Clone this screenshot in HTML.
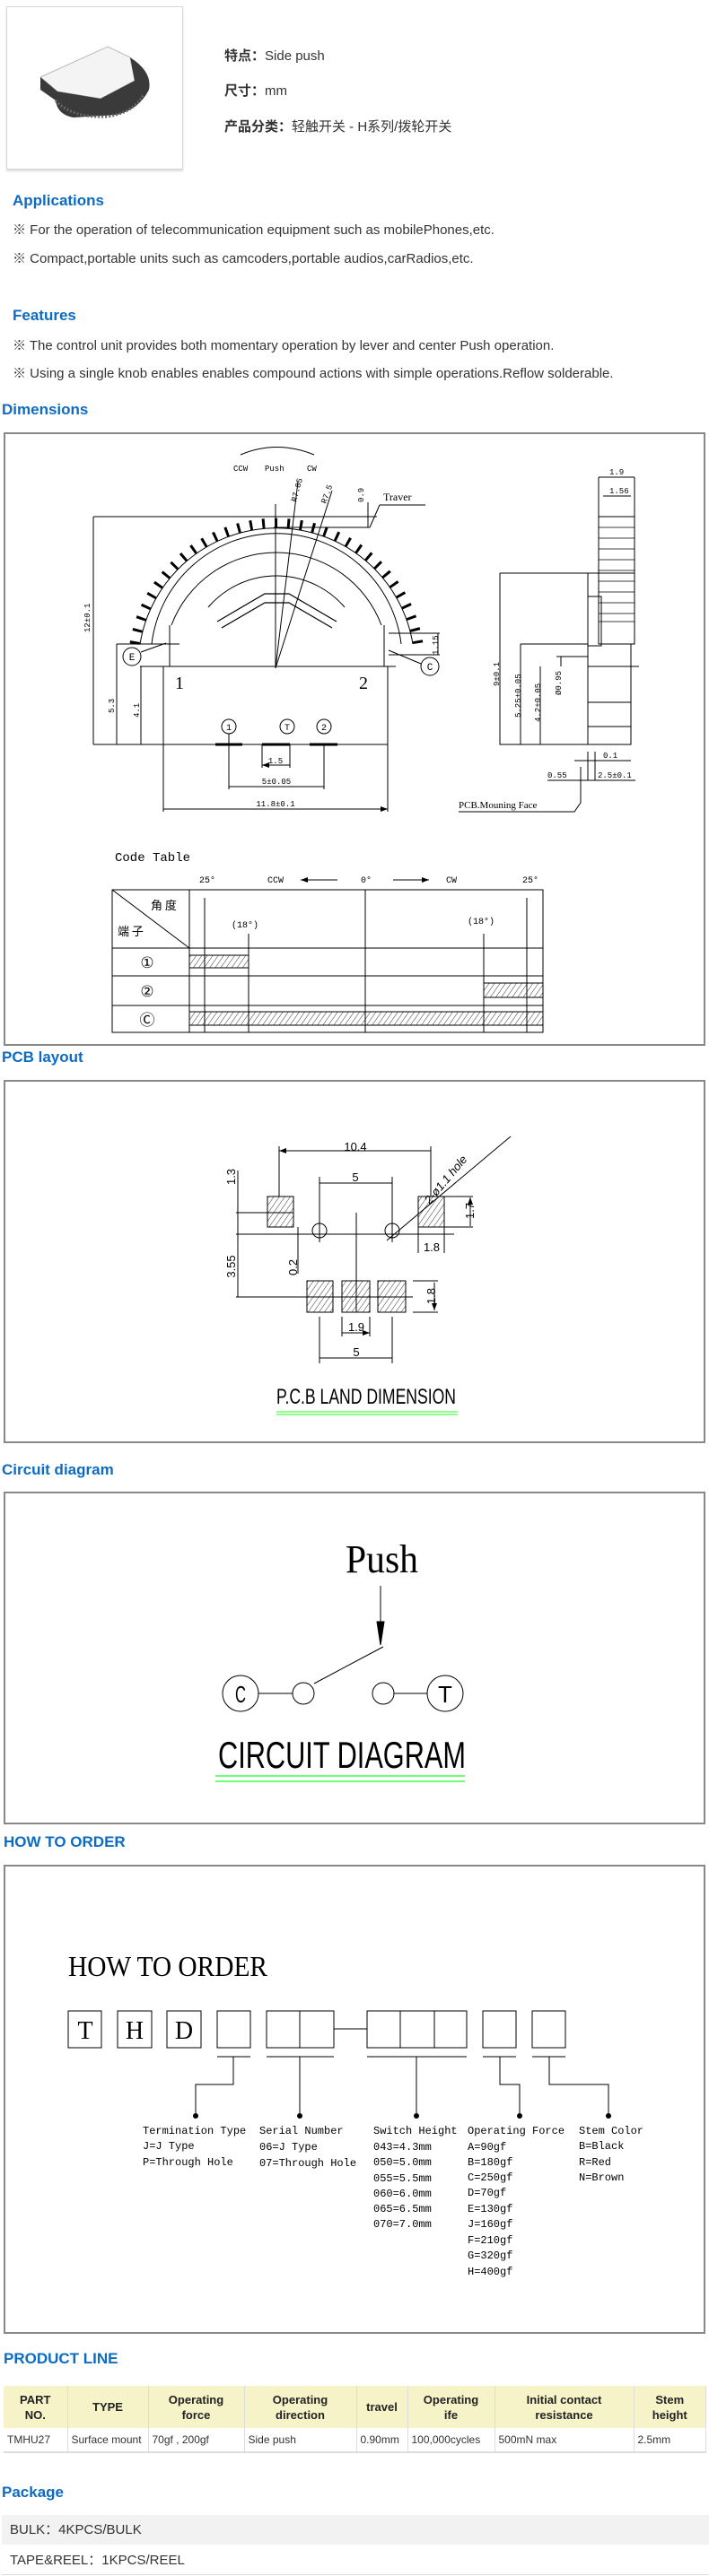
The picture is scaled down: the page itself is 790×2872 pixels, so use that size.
<!DOCTYPE html>
<html><head><meta charset="utf-8"><style>
*{margin:0;padding:0;box-sizing:border-box}
body{width:790px;height:2872px;position:relative;background:#fff;font-family:"Liberation Sans","Noto Sans CJK SC",sans-serif;color:#222;overflow:hidden}
.a{position:absolute;white-space:nowrap}
.h{font-weight:bold;color:#0d6cc2;font-size:17px;line-height:20px}
.t{font-size:15px;line-height:16px;color:#333}
.box{position:absolute;border:2px solid #888;left:4px;width:782px}
table{border-collapse:collapse;position:absolute;left:4px;top:2660px;width:783px;font-size:12px}
th{background:#f6f3c9;font-weight:bold;font-size:13px;height:47px;line-height:17px;border-right:1px solid #ddd;text-align:center}
td{height:27px;border-right:1px solid #ddd;border-bottom:2px solid #ddd;padding-left:4px;color:#333}
</style></head><body>
<div class="a" style="left:7px;top:7px;width:197px;height:182px;border:1px solid #d6d6d6;box-shadow:0 2px 2px #ddd"></div>
<svg class="a" style="left:0;top:0" width="210" height="200">
<path d="M45,86 L120,52 L145,64 L150,90 L112,110 L64,102 Z" fill="#f4f4f4" stroke="#bbb"/>
<path d="M145,64 Q170,80 166,100 Q155,122 130,128 L82,131 Q64,128 62,112 L45,100 L45,86 L64,102 L112,110 L150,90 Z" fill="#3a3a3a"/>
<path d="M62,112 Q80,132 120,130 Q150,125 160,105" fill="none" stroke="#666" stroke-width="3" stroke-dasharray="2 2"/>
</svg>
<div class="a t" style="left:250px;top:55px"><b>特点：</b>Side push</div>
<div class="a t" style="left:250px;top:94px"><b>尺寸：</b>mm</div>
<div class="a t" style="left:250px;top:134px"><b>产品分类：</b>轻触开关 - H系列/拨轮开关</div>
<div class="a h" style="left:14px;top:214px">Applications</div>
<div class="a t" style="left:14px;top:249px">※ For the operation of telecommunication equipment such as mobilePhones,etc.</div>
<div class="a t" style="left:14px;top:281px">※ Compact,portable units such as camcoders,portable audios,carRadios,etc.</div>
<div class="a h" style="left:14px;top:342px">Features</div>
<div class="a t" style="left:14px;top:378px">※ The control unit provides both momentary operation by lever and center Push operation.</div>
<div class="a t" style="left:14px;top:409px">※ Using a single knob enables enables compound actions with simple operations.Reflow solderable.</div>
<div class="a h" style="left:2px;top:447px">Dimensions</div>
<div class="box" style="top:482px;height:684px"></div>
<div class="a h" style="left:2px;top:1169px">PCB layout</div>
<div class="box" style="top:1204px;height:405px"></div>
<div class="a h" style="left:2px;top:1629px">Circuit diagram</div>
<div class="box" style="top:1663px;height:371px"></div>
<div class="a h" style="left:4px;top:2044px">HOW TO ORDER</div>
<div class="box" style="top:2079px;height:523px"></div>
<div class="a h" style="left:4px;top:2620px">PRODUCT LINE</div>
<table><tr><th style="width:71px">PART<br>NO.</th><th style="width:90px">TYPE</th><th style="width:107px">Operating<br>force</th><th style="width:125px">Operating<br>direction</th><th style="width:57px">travel</th><th style="width:97px">Operating<br>ife</th><th style="width:155px">Initial contact<br>resistance</th><th>Stem<br>height</th></tr>
<tr><td>TMHU27</td><td>Surface mount</td><td>70gf , 200gf</td><td>Side push</td><td>0.90mm</td><td>100,000cycles</td><td>500mN max</td><td>2.5mm</td></tr></table>
<div class="a h" style="left:2px;top:2769px">Package</div>
<div class="a t" style="left:2px;top:2804px;width:788px;height:33px;background:#f2f2f2;padding:9px 0 0 9px">BULK：4KPCS/BULK</div>
<div class="a t" style="left:2px;top:2838px;width:788px;height:33px;border-bottom:1px solid #ddd;padding:9px 0 0 9px">TAPE&amp;REEL：1KPCS/REEL</div>

<svg class="a" style="left:0;top:0" width="790" height="2872" fill="none" stroke="#000" stroke-width="1" font-family="Liberation Mono, monospace">
<defs><pattern id="hp" width="5" height="5" patternUnits="userSpaceOnUse" patternTransform="rotate(35)"><line x1="0" y1="0" x2="0" y2="5" stroke="#000" stroke-width="0.8"/></pattern>
<marker id="ar" markerWidth="8" markerHeight="6" refX="8" refY="3" orient="auto"><path d="M0,0 L8,3 L0,6Z" fill="#000" stroke="none"/></marker>
<marker id="al" markerWidth="8" markerHeight="6" refX="0" refY="3" orient="auto"><path d="M8,0 L0,3 L8,6Z" fill="#000" stroke="none"/></marker></defs>
<!-- dimensions front -->
<path d="M268,507 Q308,490 350,507"/>
<g fill="#000" stroke="none" font-size="9"><text x="260" y="525">CCW</text><text x="295" y="525">Push</text><text x="342" y="525">CW</text></g>
<path d="M150,718 A160 160 0 0 1 466,718" stroke-width="11" stroke-dasharray="3 11"/>
<path d="M156,718 A154 154 0 0 1 460,718"/>
<path d="M169,718 A140 140 0 0 1 447,718"/>
<path d="M191,697 A125 125 0 0 1 425,697"/>
<path d="M232,677 A100 100 0 0 1 384,677"/>
<path d="M242,693 L295,662 L322,662 L375,693 M247,700 L295,672 L322,672 L370,700" stroke-width="1.2"/>
<path d="M307,562 V745 M307,745 L332,537 M307,745 L370,547"/>
<path d="M189,697 V743 M428,697 V743 M156,743 H441 M182,743 V830 H432 V743"/>
<path d="M104,576 H420 M104,576 V830 M130,718 H200 M130,718 V830 M157,743 V830 M104,830 H182 M305,588 H412 M410,560 V588"/>
<g fill="#000" stroke="none" font-size="9"><text transform="translate(100,705) rotate(-90)">12±0.1</text><text transform="translate(127,795) rotate(-90)">5.3</text><text transform="translate(155,800) rotate(-90)">4.1</text><text transform="translate(405,560) rotate(-90)">0.9</text><text transform="translate(488,730) rotate(-90)">1.15</text><text transform="translate(330,560) rotate(-75)">R7.85</text><text transform="translate(363,562) rotate(-70)">R7.5</text></g>
<text x="427" y="558" font-size="12" fill="#000" stroke="none" font-family="Liberation Serif, serif">Traver</text>
<path d="M423,563 H474 M423,563 L412,588 M433,706 H490 M433,730 H490 M488,706 V730"/>
<g fill="#000" stroke="none" font-family="Liberation Serif, serif"><text x="195" y="768" font-size="20">1</text><text x="400" y="768" font-size="20">2</text></g>
<circle cx="255" cy="810" r="8"/><circle cx="320" cy="810" r="8"/><circle cx="361" cy="810" r="8"/>
<g fill="#000" stroke="none" font-size="10" text-anchor="middle"><text x="255" y="814">1</text><text x="320" y="814">T</text><text x="361" y="814">2</text></g>
<circle cx="147" cy="732" r="10"/><circle cx="479" cy="743" r="10"/>
<g fill="#000" stroke="none" font-size="11" text-anchor="middle"><text x="147" y="736">E</text><text x="479" y="747">C</text></g>
<path d="M157,727 L185,717 M469,740 L433,725"/>
<path d="M240,830 H270 M292,830 H323 M345,830 H376" stroke-width="3"/>
<path d="M182,830 V905 M432,830 V905 M255,818 V880 M361,830 V880 M292,830 V856 M323,830 V856"/>
<path d="M292,853 H323 M255,877 H361 M182,902 H432" marker-start="url(#al)" marker-end="url(#ar)"/>
<g fill="#000" stroke="none" font-size="9" text-anchor="middle"><text x="307" y="851">1.5</text><text x="308" y="874">5±0.05</text><text x="307" y="899">11.8±0.1</text></g>
<!-- side view -->
<path d="M667,532 V576 M707,532 V576 M667,532 H707 M672,553 H703 M667,576 H707 V718 H667 Z M655,639 H707 M655,639 V830 H703 V718"/>
<g stroke-width="0.8"><path d="M667,588 H707 M667,600 H707 M667,612 H707 M667,624 H707 M667,636 H707 M667,648 H707 M667,660 H707 M667,672 H707 M667,684 H707 M667,693 H707"/></g>
<path d="M655,665 H670 V720 H655 M655,743 H712 M655,783 H703 M655,810 H703 M557,639 H655 M557,639 V830 H655 M580,718 H655 M580,718 V830 M602,743 V830 M625,732 V743 M620,732 H655 M663,838 V870 M655,838 V870 M647,855 V895 L640,905 H511"/>
<g fill="#000" stroke="none" font-size="9"><text x="679" y="529">1.9</text><text x="679" y="550">1.56</text><text transform="translate(556,765) rotate(-90)">9±0.1</text><text transform="translate(580,800) rotate(-90)">5.25±0.05</text><text transform="translate(602,805) rotate(-90)">4.2±0.05</text><text transform="translate(625,775) rotate(-90)">Ø0.95</text><text x="672" y="845">0.1</text><text x="610" y="867">0.55</text><text x="666" y="867">2.5±0.1</text></g>
<path d="M640,848 H703 M610,870 H708"/>
<text x="511" y="901" font-size="11" fill="#000" stroke="none" font-family="Liberation Serif, serif">PCB.Mouning Face</text>
<!-- code table -->
<text x="128" y="960" font-size="14" fill="#000" stroke="none">Code Table</text>
<g fill="#000" stroke="none" font-size="10"><text x="222" y="984">25°</text><text x="298" y="984">CCW</text><text x="402" y="984">0°</text><text x="497" y="984">CW</text><text x="582" y="984">25°</text><text x="258" y="1034">(18°)</text><text x="521" y="1030">(18°)</text></g>
<path d="M335,981 H376 M438,981 H478" marker-start="url(#al)" marker-end="url(#ar)"/>
<rect x="125" y="992" width="480" height="159"/>
<path d="M211,992 V1151 M125,1057 H605 M125,1088 H605 M125,1121 H605 M125,992 L211,1057 M407,992 V1151 M228,1001 V1151 M587,1001 V1151 M277,1041 V1151 M539,1041 V1151"/>
<g fill="url(#hp)"><rect x="211" y="1065" width="66" height="14"/><rect x="539" y="1096" width="66" height="16"/><rect x="211" y="1128" width="394" height="15"/></g>
<g fill="#000" stroke="none" font-size="13" font-family="Noto Sans CJK SC, sans-serif"><text x="168" y="1014">角 度</text><text x="131" y="1043">端 子</text></g>
<g fill="#000" stroke="none" font-size="17" font-family="Liberation Sans, sans-serif" text-anchor="middle"><text x="164" y="1079">①</text><text x="164" y="1111">②</text><text x="164" y="1143">Ⓒ</text></g>
<!-- PCB -->
<g fill="url(#hp)"><rect x="298" y="1334" width="29" height="34"/><rect x="466" y="1334" width="29" height="34"/><rect x="342" y="1428" width="29" height="35"/><rect x="381" y="1428" width="31" height="35"/><rect x="421" y="1428" width="31" height="35"/></g>
<circle cx="356" cy="1372" r="8"/><circle cx="437" cy="1372" r="8"/>
<path d="M263,1376 H506 M397,1352 V1463 M263,1352 H327 M263,1446 H460 M311,1278 V1334 M480,1278 V1334 M356,1312 V1385 M437,1312 V1385 M356,1468 V1520 M437,1468 V1520 M381,1468 V1490 M412,1468 V1490 M466,1368 V1397 M495,1368 V1397 M495,1334 H527 M495,1368 H527 M460,1428 H488 M460,1463 H488 M431,1383 L569,1267 M265,1305 V1446 M332,1368 V1420"/>
<path d="M311,1283 H480 M356,1319 H437 M356,1514 H437 M381,1486 H412" marker-start="url(#al)" marker-end="url(#ar)"/>
<path d="M524,1335 V1367 M484,1430 V1461" marker-start="url(#al)" marker-end="url(#ar)"/>
<g fill="#000" stroke="none" font-size="13" font-family="Liberation Sans, sans-serif" text-anchor="middle"><text x="396" y="1283">10.4</text><text x="396" y="1317">5</text><text x="397" y="1512">5</text><text x="397" y="1484">1.9</text><text x="481" y="1395">1.8</text><text transform="translate(262,1312) rotate(-90)">1.3</text><text transform="translate(262,1412) rotate(-90)">3.55</text><text transform="translate(331,1413) rotate(-90)">0.2</text><text transform="translate(528,1350) rotate(-90)">1.7</text><text transform="translate(485,1445) rotate(-90)">1.8</text><text transform="translate(500,1318) rotate(-50)" font-style="italic">2-ø1.1 hole</text></g>
<text x="308" y="1565" font-size="24" fill="#000" stroke="none" font-family="Liberation Sans, sans-serif" textLength="200" lengthAdjust="spacingAndGlyphs">P.C.B LAND DIMENSION</text>
<path d="M308,1574 H510 M308,1577 H510" stroke="#2f2"/>
<!-- circuit -->
<text x="385" y="1753" font-size="44" fill="#000" stroke="none" font-family="Liberation Serif, serif" textLength="81" lengthAdjust="spacingAndGlyphs">Push</text>
<path d="M424,1768 V1808"/><path d="M420,1808 L428,1808 L424,1834Z" fill="#000"/>
<path d="M350,1877 L427,1836"/>
<circle cx="268" cy="1888" r="20"/><circle cx="338" cy="1888" r="12"/><circle cx="427" cy="1888" r="12"/><circle cx="496" cy="1888" r="20"/>
<path d="M288,1888 H326 M439,1888 H476"/>
<g fill="#000" stroke="none" font-size="26" font-family="Liberation Sans, sans-serif" text-anchor="middle"><text x="268" y="1898" textLength="12" lengthAdjust="spacingAndGlyphs">C</text><text x="496" y="1898">T</text></g>
<text x="243" y="1971" font-size="42" fill="#000" stroke="none" font-family="Liberation Sans, sans-serif" textLength="276" lengthAdjust="spacingAndGlyphs">CIRCUIT DIAGRAM</text>
<path d="M240,1980 H518 M240,1986 H518" stroke="#4f4" stroke-width="1.5"/>
<!-- how to order -->
<text x="76" y="2203" font-size="32" fill="#000" stroke="none" font-family="Liberation Serif, serif" textLength="222" lengthAdjust="spacingAndGlyphs">HOW TO ORDER</text>
<g><rect x="76" y="2242" width="37" height="41"/><rect x="131" y="2242" width="38" height="41"/><rect x="186" y="2242" width="38" height="41"/><rect x="242" y="2242" width="37" height="41"/><rect x="297" y="2242" width="75" height="41"/><rect x="409" y="2242" width="111" height="41"/><rect x="538" y="2242" width="37" height="41"/><rect x="593" y="2242" width="37" height="41"/></g>
<path d="M334,2242 V2283 M446,2242 V2283 M484,2242 V2283 M372,2262 H409"/>
<g fill="#000" stroke="none" font-size="28" font-family="Liberation Serif, serif" text-anchor="middle"><text x="95" y="2273">T</text><text x="150" y="2273">H</text><text x="205" y="2273">D</text></g>
<path d="M242,2293 H279 M297,2293 H372 M409,2293 H520 M538,2293 H575 M593,2293 H630 M260,2293 V2324 H218 V2358 M334,2293 V2358 M464,2293 V2358 M557,2293 V2324 H579 V2358 M612,2293 V2324 H678 V2358"/>
<g fill="#000" stroke="none"><circle cx="218" cy="2359" r="3"/><circle cx="334" cy="2359" r="3"/><circle cx="464" cy="2359" r="3"/><circle cx="579" cy="2359" r="3"/><circle cx="678" cy="2359" r="3"/></g>
<g fill="#000" stroke="none" font-size="12">
<text x="159" y="2379">Termination Type</text><text x="159" y="2396">J=J Type</text><text x="159" y="2414">P=Through Hole</text>
<text x="289" y="2379">Serial Number</text><text x="289" y="2397">06=J Type</text><text x="289" y="2415">07=Through Hole</text>
<text x="416" y="2379">Switch Height</text><text x="416" y="2397">043=4.3mm</text><text x="416" y="2414">050=5.0mm</text><text x="416" y="2432">055=5.5mm</text><text x="416" y="2449">060=6.0mm</text><text x="416" y="2466">065=6.5mm</text><text x="416" y="2483">070=7.0mm</text>
<text x="521" y="2379">Operating Force</text><text x="521" y="2397">A=90gf</text><text x="521" y="2414">B=180gf</text><text x="521" y="2431">C=250gf</text><text x="521" y="2448">D=70gf</text><text x="521" y="2466">E=130gf</text><text x="521" y="2483">J=160gf</text><text x="521" y="2501">F=210gf</text><text x="521" y="2518">G=320gf</text><text x="521" y="2536">H=400gf</text>
<text x="645" y="2379">Stem Color</text><text x="645" y="2396">B=Black</text><text x="645" y="2414">R=Red</text><text x="645" y="2431">N=Brown</text></g>
</svg>
</body></html>
